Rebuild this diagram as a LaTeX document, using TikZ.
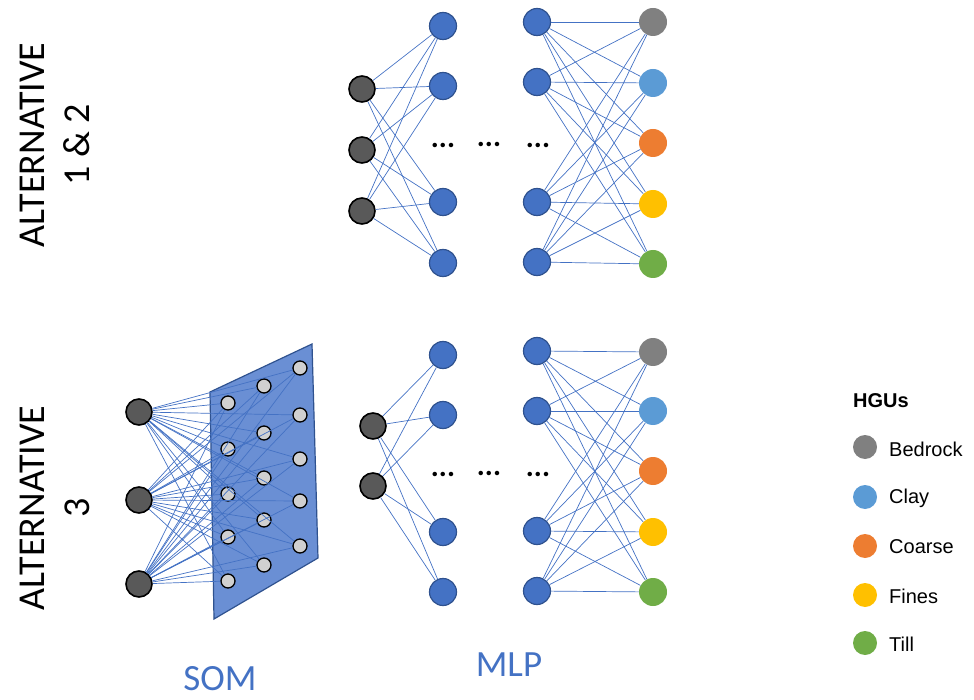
\documentclass[tikz,border=0pt]{standalone}
\usepackage{fontspec}
\setmainfont{Carlito}
\newfontfamily\arialf{Liberation Sans}
\definecolor{linkblue}{HTML}{4472C4}
\definecolor{nodeblue}{HTML}{4472C4}
\definecolor{nodeborder}{HTML}{2F528F}
\definecolor{darkgrey}{HTML}{595959}
\definecolor{somfill}{RGB}{106,143,212}
\definecolor{somgrey}{HTML}{D0D0D0}
\definecolor{cbedrock}{HTML}{808080}
\definecolor{cclay}{HTML}{5B9BD5}
\definecolor{ccoarse}{HTML}{ED7D31}
\definecolor{cfines}{HTML}{FFC000}
\definecolor{ctill}{HTML}{70AD47}
\begin{document}
\begin{tikzpicture}[x=1pt,y=-1pt,
  conn/.style={draw=linkblue, line width=0.7pt},
  innode/.style={circle, draw=black, line width=1.6pt, fill=darkgrey, minimum size=26pt, inner sep=0pt},
  hidnode/.style={circle, draw=nodeborder, line width=1.2pt, fill=nodeblue, minimum size=27pt, inner sep=0pt},
  outnode/.style={circle, minimum size=28pt, inner sep=0pt},
  somnode/.style={circle, draw=black, line width=1.3pt, fill=somgrey, minimum size=14pt, inner sep=0pt},
  legdot/.style={circle, minimum size=24pt, inner sep=0pt},
  dotsnode/.style={font=\bfseries\fontsize{30}{34}\selectfont, inner sep=0pt},
  sidelabel/.style={rotate=90, align=center, font=\fontsize{38}{45}\selectfont, inner sep=0pt},
  netlabel/.style={text=linkblue, font=\fontsize{37}{40}\selectfont, inner sep=0pt},
  legtext/.style={anchor=west, font=\arialf\fontsize{20}{24}\selectfont, inner sep=0pt},
]
\useasboundingbox (0,0) rectangle (974,700);

% ---------- side labels ----------
\node[sidelabel] (alt12) at (55,145) {ALTERNATIVE\\1 \& 2};
\node[sidelabel] (alt3) at (55,508) {ALTERNATIVE\\3};

% ---------- top MLP ----------
\foreach \i/\y in {1/89,2/150,3/211} \node[innode] (ta\i) at (362,\y) {};
\foreach \j/\y in {1/26,2/86,3/202,4/263} \node[hidnode] (tb\j) at (443,\y) {};
\foreach \j/\y in {1/22,2/82,3/202,4/262} \node[hidnode] (tc\j) at (537,\y) {};
\node[outnode, fill=cbedrock] (to1) at (653,22) {};
\node[outnode, fill=cclay] (to2) at (653,83) {};
\node[outnode, fill=ccoarse] (to3) at (653,143) {};
\node[outnode, fill=cfines] (to4) at (653,204) {};
\node[outnode, fill=ctill] (to5) at (653,264) {};
\node[dotsnode] (td1) at (443,145) {...};
\node[dotsnode] (td2) at (489,144) {...};
\node[dotsnode] (td3) at (538,145) {...};
\foreach \i in {1,2,3} \foreach \j in {1,2,3,4} \draw[conn] (ta\i) -- (tb\j);
\foreach \i in {1,2,3,4} \foreach \j in {1,2,3,4,5} \draw[conn] (tc\i) -- (to\j);

% ---------- bottom SOM ----------
\path[fill=somfill, draw=nodeborder, line width=1.2pt] (210,392) -- (312,344) -- (318,558) -- (214,619) -- cycle;
\foreach \i/\y in {1/412,2/500,3/584} \node[innode] (sa\i) at (139,\y) {};
\foreach \k/\y in {1/403,2/449,3/494,4/537,5/581} \node[somnode] (s1\k) at (228,\y) {};
\foreach \k/\y in {1/386,2/433,3/478,4/520,5/565} \node[somnode] (s2\k) at (264,\y) {};
\foreach \k/\y in {1/368,2/415,3/459,4/501,5/546} \node[somnode] (s3\k) at (300,\y) {};
\foreach \i in {1,2,3} \foreach \c in {1,2,3} \foreach \k in {1,...,5} \draw[conn] (sa\i) -- (s\c\k);

% ---------- bottom MLP ----------
\foreach \i/\y in {1/426,2/486} \node[innode] (ba\i) at (373,\y) {};
\foreach \j/\y in {1/355,2/415,3/532,4/592} \node[hidnode] (bb\j) at (443,\y) {};
\foreach \j/\y in {1/351,2/411,3/531,4/591} \node[hidnode] (bc\j) at (537,\y) {};
\node[outnode, fill=cbedrock] (bo1) at (653,352) {};
\node[outnode, fill=cclay] (bo2) at (653,411) {};
\node[outnode, fill=ccoarse] (bo3) at (653,471) {};
\node[outnode, fill=cfines] (bo4) at (653,532) {};
\node[outnode, fill=ctill] (bo5) at (653,592) {};
\node[dotsnode] (bd1) at (443,474) {...};
\node[dotsnode] (bd2) at (489,473) {...};
\node[dotsnode] (bd3) at (538,474) {...};
\foreach \i in {1,2} \foreach \j in {1,2,3,4} \draw[conn] (ba\i) -- (bb\j);
\foreach \i in {1,2,3,4} \foreach \j in {1,2,3,4,5} \draw[conn] (bc\i) -- (bo\j);

% ---------- bottom labels ----------
\node[netlabel] (somlab) at (220,679) {SOM};
\node[netlabel] (mlplab) at (509,665) {MLP};

% ---------- legend ----------
\node[anchor=west, font=\arialf\bfseries\fontsize{20}{24}\selectfont, inner sep=0pt] (hgu) at (853,401) {HGUs};
\node[legdot, fill=cbedrock] (l1) at (865,447) {};
\node[legdot, fill=cclay] (l2) at (865,497) {};
\node[legdot, fill=ccoarse] (l3) at (865,546) {};
\node[legdot, fill=cfines] (l4) at (865,595) {};
\node[legdot, fill=ctill] (l5) at (865,643) {};
\node[legtext] (t1) at (889,449) {Bedrock};
\node[legtext] (t2) at (889,498) {Clay};
\node[legtext] (t3) at (889,547) {Coarse};
\node[legtext] (t4) at (889,596) {Fines};
\node[legtext] (t5) at (889,644) {Till};
\end{tikzpicture}
\end{document}
